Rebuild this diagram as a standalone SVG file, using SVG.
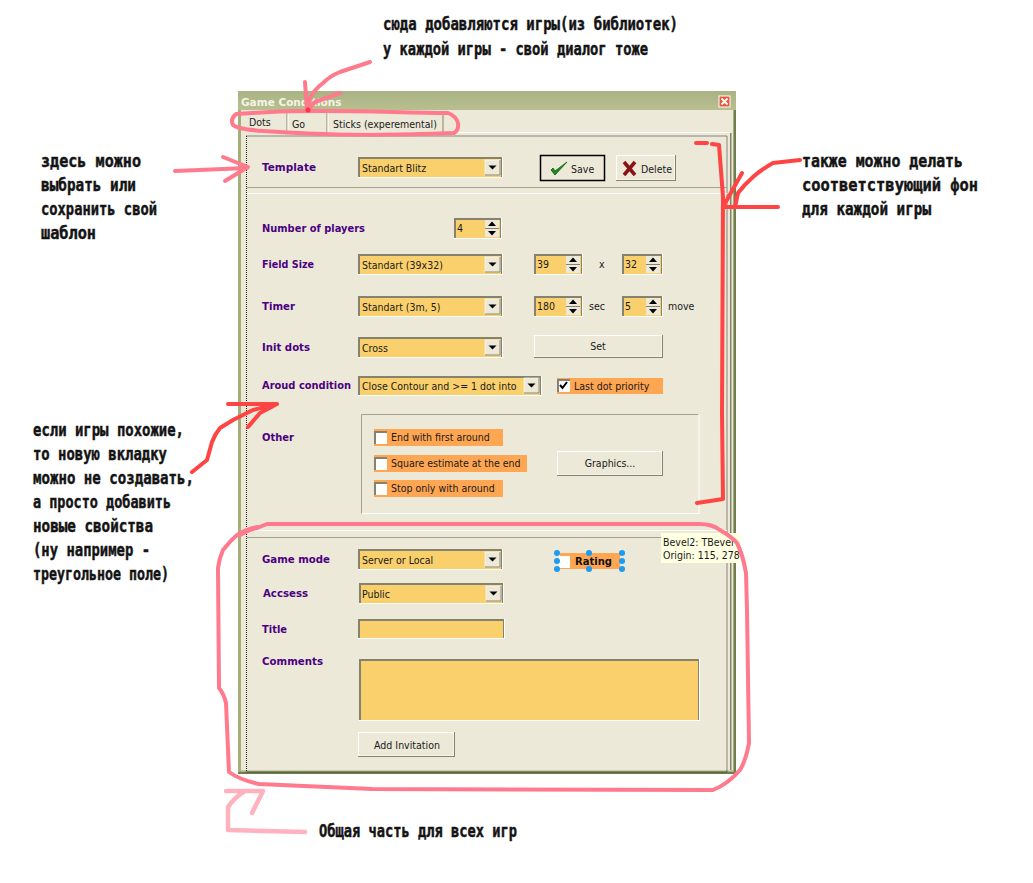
<svg xmlns="http://www.w3.org/2000/svg" width="1033" height="883" viewBox="0 0 1033 883">
<style>
text{font-family:"DejaVu Sans Condensed","DejaVu Sans",sans-serif;font-stretch:condensed;font-size:10.500px;fill:#1a1a1a}
.l{font-family:"DejaVu Sans",Verdana,sans-serif;font-stretch:normal;font-weight:700;font-size:11px;fill:#4b0082}
.n{font-family:"DejaVu Sans Mono",monospace;font-stretch:normal;font-weight:700;font-size:17px;fill:#141414;stroke:#141414;stroke-width:.45}
.w{fill:#fff}.g{fill:#85836f}.y{fill:#fad06c}.o{fill:#ffa653}.b{fill:#ece9d8}
.p{fill:none;stroke:#ff7a8c;stroke-width:4;stroke-linecap:round;stroke-linejoin:round}
.lp{fill:none;stroke:#ffb2be;stroke-width:4.500;stroke-linecap:round;stroke-linejoin:round}
.r{fill:none;stroke:#ff4444;stroke-width:4;stroke-linecap:round;stroke-linejoin:round}
.h{fill:#1e9af0}
</style>
<defs>
<linearGradient id="tb" x1="0" y1="0" x2="0" y2="1"><stop offset="0" stop-color="#a9b383"/><stop offset="1" stop-color="#b8be90"/></linearGradient>
<g id="dd"><rect width="15" height="15" fill="#ece9d8" stroke="#fff" stroke-width=".6"/><path d="M15 0v15H0" fill="none" stroke="#85836f"/><path d="M3.500 5.500h8l-4 4z" fill="#000"/></g>
<g id="sp"><rect width="14" height="17" fill="#ece9d8"/><path d="M7 1.500l4 4.500h-8zM7 15.500l-4-4.500h8z" fill="#000"/><path d="M0 8.500h14" stroke="#85836f"/></g>
<g id="cbx"><rect width="13" height="13" fill="#fff"/><path d="M1 13V1H13" fill="none" stroke="#85836f" stroke-width="2"/></g>
</defs>
<rect width="1033" height="883" fill="#fff"/>
<g id="window">
<rect x="238" y="91" width="498" height="683" fill="#6f7d4f"/>
<rect x="238" y="91" width="496" height="681" fill="#a3ae78"/>
<rect x="241" y="110" width="492" height="660.500" class="b"/>
<rect x="238" y="91" width="498" height="19" fill="url(#tb)"/>
<text x="241" y="106" style="font-family:'DejaVu Sans',sans-serif;font-stretch:normal;font-weight:700;font-size:10.500px;fill:#f4f4e6">Game Conditions</text>
<rect x="719" y="96" width="11" height="11" fill="#e8583c" stroke="#fff"/>
<path d="M721.500 98.500l6 6M727.500 98.500l-6 6" stroke="#fff" stroke-width="1.800"/>
<rect x="241" y="132" width="489" height="1" class="w"/>
<rect x="730" y="133" width="1.500" height="637" fill="#85836f"/>
<rect x="246.500" y="136" width="480.500" height="636" fill="none" stroke="#222" stroke-width="1" stroke-dasharray="1 1"/>
</g>
<g id="tabs">
<rect x="241" y="112" width="46" height="21" class="b"/>
<path d="M287 113v19M327 113v19M443 113v19" stroke="#85836f" stroke-width="1"/>
<path d="M288 113v19M328 113v19" stroke="#fff" stroke-width="1"/>
<text x="249" y="126">Dots</text><text x="292" y="128">Go</text><text x="333" y="128">Sticks (experemental)</text>
</g>
<g id="separators">
<path d="M247 187.500h480" stroke="#a5a28f"/><path d="M247 193.500h480" stroke="#fff"/>
<path d="M247 530.500h480" stroke="#fff"/><path d="M247 537.500h480" stroke="#a5a28f"/>
</g>
<g id="template">
<text class="l" x="262" y="171" textLength="54" lengthAdjust="spacingAndGlyphs">Template</text>
<rect x="358" y="157" width="145" height="21" class="w"/><rect x="358" y="157" width="144" height="20" class="g"/><rect x="360" y="159" width="141" height="18" class="y"/>
<use href="#dd" x="485" y="160"/><text x="362" y="172">Standart Blitz</text>
</g>
<g id="save"><rect x="540.500" y="155.500" width="64" height="25" class="b" stroke="#000" stroke-width="1.500"/>
<path d="M551 170l4 5 12-13-12 9-2-3z" fill="#1f8a1f" stroke="#0b5f0b" stroke-width=".8"/><text x="571" y="173">Save</text></g>
<g id="delete"><rect x="616" y="155" width="60" height="26" class="g"/><rect x="616" y="155" width="59" height="25" class="w"/><rect x="617" y="156" width="57.500" height="23.500" class="b"/>
<path d="M624 162l11 13M635 162l-11 13" stroke="#8c1313" stroke-width="3.500"/><text x="641" y="173">Delete</text></g>
<g id="players"><text class="l" x="262" y="232" textLength="103" lengthAdjust="spacingAndGlyphs">Number of players</text>
<rect x="454" y="218" width="48" height="21" class="w"/><rect x="454" y="218" width="47" height="20" class="g"/><rect x="456" y="220" width="44" height="18" class="y"/>
<use href="#sp" x="485" y="220"/><text x="457" y="232">4</text></g>
<g id="fieldsize"><text class="l" x="262" y="268" textLength="52" lengthAdjust="spacingAndGlyphs">Field Size</text>
<rect x="358" y="254" width="145" height="21" class="w"/><rect x="358" y="254" width="144" height="20" class="g"/><rect x="360" y="256" width="141" height="18" class="y"/>
<use href="#dd" x="485" y="257"/><text x="362" y="269">Standart (39x32)</text>
<rect x="534" y="254" width="49" height="21" class="w"/><rect x="534" y="254" width="48" height="20" class="g"/><rect x="536" y="256" width="45" height="18" class="y"/>
<use href="#sp" x="566" y="256"/><text x="537" y="268">39</text>
<text x="599" y="268">x</text>
<rect x="622" y="254" width="41" height="21" class="w"/><rect x="622" y="254" width="40" height="20" class="g"/><rect x="624" y="256" width="37" height="18" class="y"/>
<use href="#sp" x="646" y="256"/><text x="625" y="268">32</text></g>
<g id="timer"><text class="l" x="262" y="310" textLength="33" lengthAdjust="spacingAndGlyphs">Timer</text>
<rect x="358" y="296" width="145" height="21" class="w"/><rect x="358" y="296" width="144" height="20" class="g"/><rect x="360" y="298" width="141" height="18" class="y"/>
<use href="#dd" x="485" y="299"/><text x="362" y="311">Standart (3m, 5)</text>
<rect x="534" y="296" width="49" height="21" class="w"/><rect x="534" y="296" width="48" height="20" class="g"/><rect x="536" y="298" width="45" height="18" class="y"/>
<use href="#sp" x="566" y="298"/><text x="537" y="310">180</text>
<text x="589" y="310">sec</text>
<rect x="622" y="296" width="41" height="21" class="w"/><rect x="622" y="296" width="40" height="20" class="g"/><rect x="624" y="298" width="37" height="18" class="y"/>
<use href="#sp" x="646" y="298"/><text x="625" y="310">5</text>
<text x="668" y="310">move</text></g>
<g id="initdots"><text class="l" x="262" y="351" textLength="48" lengthAdjust="spacingAndGlyphs">Init dots</text>
<rect x="358" y="337" width="145" height="21" class="w"/><rect x="358" y="337" width="144" height="20" class="g"/><rect x="360" y="339" width="141" height="18" class="y"/>
<use href="#dd" x="485" y="340"/><text x="362" y="352">Cross</text>
<rect x="534" y="335" width="129" height="23" class="g"/><rect x="534" y="335" width="128" height="22" class="w"/><rect x="535" y="336" width="126.500" height="20.500" class="b"/><text x="598" y="350" text-anchor="middle">Set</text></g>
<g id="around"><text class="l" x="262" y="389" textLength="89" lengthAdjust="spacingAndGlyphs">Aroud condition</text>
<rect x="358" y="376" width="184" height="20" class="w"/><rect x="358" y="376" width="183" height="19" class="g"/><rect x="360" y="378" width="180" height="17" class="y"/>
<use href="#dd" x="524" y="378"/><text x="362" y="390">Close Contour and &gt;= 1 dot into</text>
<rect x="557" y="378" width="106" height="16" class="o"/><use href="#cbx" x="557" y="379"/><path d="M560 385l2.500 3 4.500-6" fill="none" stroke="#000" stroke-width="2"/><text x="574" y="390">Last dot priority</text></g>
<g id="other"><text class="l" x="262" y="441" textLength="32" lengthAdjust="spacingAndGlyphs">Other</text>
<path d="M361.500 513.500v-99h337" fill="none" stroke="#a5a28f"/><path d="M362 513.500h337v-99" fill="none" stroke="#fff"/>
<rect x="374" y="429" width="129" height="17" class="o"/><use href="#cbx" x="374" y="431"/><text x="391" y="441">End with first around</text>
<rect x="374" y="455" width="153" height="17" class="o"/><use href="#cbx" x="374" y="457"/><text x="391" y="467">Square estimate at the end</text>
<rect x="374" y="480" width="129" height="17" class="o"/><use href="#cbx" x="374" y="482"/><text x="391" y="492">Stop only with around</text>
<rect x="557" y="451" width="106" height="25" class="g"/><rect x="557" y="451" width="105" height="24" class="w"/><rect x="558" y="452" width="103.500" height="22.500" class="b"/><text x="610" y="467" text-anchor="middle">Graphics...</text></g>
<g id="gamemode"><text class="l" x="262" y="563" textLength="68" lengthAdjust="spacingAndGlyphs">Game mode</text>
<rect x="358" y="549" width="145" height="21" class="w"/><rect x="358" y="549" width="144" height="20" class="g"/><rect x="360" y="551" width="141" height="18" class="y"/>
<use href="#dd" x="485" y="552"/><text x="362" y="564">Server or Local</text></g>
<g id="rating"><rect x="560" y="553" width="60" height="16" class="o"/><rect x="559" y="556" width="11" height="12" fill="#fff"/>
<text x="575" y="565" style="font-family:'DejaVu Sans',sans-serif;font-stretch:normal;font-weight:700;font-size:10.500px;fill:#111" textLength="37" lengthAdjust="spacingAndGlyphs">Rating</text>
<circle class="h" cx="557" cy="553" r="3"/><circle class="h" cx="589" cy="553" r="3"/><circle class="h" cx="622" cy="553" r="3"/><circle class="h" cx="557" cy="561" r="3"/><circle class="h" cx="622" cy="561" r="3"/><circle class="h" cx="557" cy="569" r="3"/><circle class="h" cx="589" cy="569" r="3"/><circle class="h" cx="622" cy="569" r="3"/></g>
<g id="tooltip"><rect x="661" y="533" width="80" height="30" fill="#ffffe1"/><text x="663" y="546">Bevel2: TBevel</text><text x="663" y="559">Origin: 115, 278</text></g>
<g id="access"><text class="l" x="263" y="597" textLength="45" lengthAdjust="spacingAndGlyphs">Accsess</text>
<rect x="359" y="583" width="145" height="21" class="w"/><rect x="359" y="583" width="144" height="20" class="g"/><rect x="361" y="585" width="141" height="18" class="y"/>
<use href="#dd" x="486" y="586"/><text x="362" y="598">Public</text></g>
<g id="title"><text class="l" x="262" y="633" textLength="25" lengthAdjust="spacingAndGlyphs">Title</text>
<rect x="358" y="619" width="147" height="20" class="w"/><rect x="358" y="619" width="146" height="19" class="g"/><rect x="360" y="621" width="143" height="17" class="y"/></g>
<g id="comments"><text class="l" x="262" y="665" textLength="61" lengthAdjust="spacingAndGlyphs">Comments</text>
<rect x="359" y="659" width="341" height="62" class="w"/><rect x="359" y="659" width="340" height="61" class="g"/><rect x="361" y="661" width="337" height="59" class="y"/></g>
<g id="invite"><rect x="358" y="732" width="97" height="25" class="g"/><rect x="358" y="732" width="96" height="24" class="w"/><rect x="359" y="733" width="94.500" height="22.500" class="b"/><text x="407" y="749" text-anchor="middle">Add Invitation</text></g>
<g id="connectors">
<path class="p" d="M270 112C330 109 400 113 448 113Q456 116 458 123Q459 130 454 133C400 135 330 136 263 131C250 130 238 129 233 125Q230 119 236 114L270 112"/>
<path class="p" d="M370 62L340 72Q330 76 323 83Q314 90 310 98L308 110M305 82L307 110M340 93L315 102L308 110"/>
<path class="p" d="M175 171L247 168M223 157L248 167L225 181"/>
<path class="p" d="M240 535Q250 529 257 528L267 524H700Q712 524 720 530Q732 537 737 543Q743 555 746 573L747 610L749 743Q746 760 740 770Q728 784 713 790L372 789L259 784Q240 780 229 772L226 703Q224 694 219 688L218 568Q219 559 223 550Q230 541 237 535Q247 529 258 527"/>
<path class="lp" d="M305 832L228 830L228 807Q235 797 245 791M226 791H263L252 813"/>
<path class="r" d="M696 143H707M712 144L719 145L723 197L722 413L723 499L697 503"/>
<path class="r" d="M800 160L773 163Q762 169 753 177Q744 185 738 193L735 207H778H723L742 173"/>
<path class="r" d="M228 404H277L253 410L233 420L220 428Q215 434 212 442L207 460L192 472M277 404L260 413L248 427"/>
<circle cx="308" cy="110" r="2.500" fill="#ff3344"/>
</g>
<g id="notes">
<text class="n" x="383" y="30" textLength="295" lengthAdjust="spacingAndGlyphs">сюда добавляются игры(из библиотек)</text>
<text class="n" x="383" y="55" textLength="265" lengthAdjust="spacingAndGlyphs">у каждой игры - свой диалог тоже</text>
<text class="n" x="41" y="167" textLength="100" lengthAdjust="spacingAndGlyphs">здесь можно</text>
<text class="n" x="41" y="191" textLength="95" lengthAdjust="spacingAndGlyphs">выбрать или</text>
<text class="n" x="41" y="215" textLength="116" lengthAdjust="spacingAndGlyphs">сохранить свой</text>
<text class="n" x="41" y="239" textLength="55" lengthAdjust="spacingAndGlyphs">шаблон</text>
<text class="n" x="33" y="436" textLength="151" lengthAdjust="spacingAndGlyphs">если игры похожие,</text>
<text class="n" x="33" y="460" textLength="134" lengthAdjust="spacingAndGlyphs">то новую вкладку</text>
<text class="n" x="33" y="484" textLength="161" lengthAdjust="spacingAndGlyphs">можно не создавать,</text>
<text class="n" x="33" y="508" textLength="138" lengthAdjust="spacingAndGlyphs">а просто добавить</text>
<text class="n" x="33" y="532" textLength="120" lengthAdjust="spacingAndGlyphs">новые свойства</text>
<text class="n" x="33" y="556" textLength="117" lengthAdjust="spacingAndGlyphs">(ну например -</text>
<text class="n" x="33" y="580" textLength="136" lengthAdjust="spacingAndGlyphs">треугольное поле)</text>
<text class="n" x="802" y="167" textLength="161" lengthAdjust="spacingAndGlyphs">также можно делать</text>
<text class="n" x="802" y="191" textLength="176" lengthAdjust="spacingAndGlyphs">соответствующий фон</text>
<text class="n" x="802" y="215" textLength="129" lengthAdjust="spacingAndGlyphs">для каждой игры</text>
<text class="n" x="319" y="837" textLength="198" lengthAdjust="spacingAndGlyphs">Общая часть для всех игр</text>
</g>
</svg>
